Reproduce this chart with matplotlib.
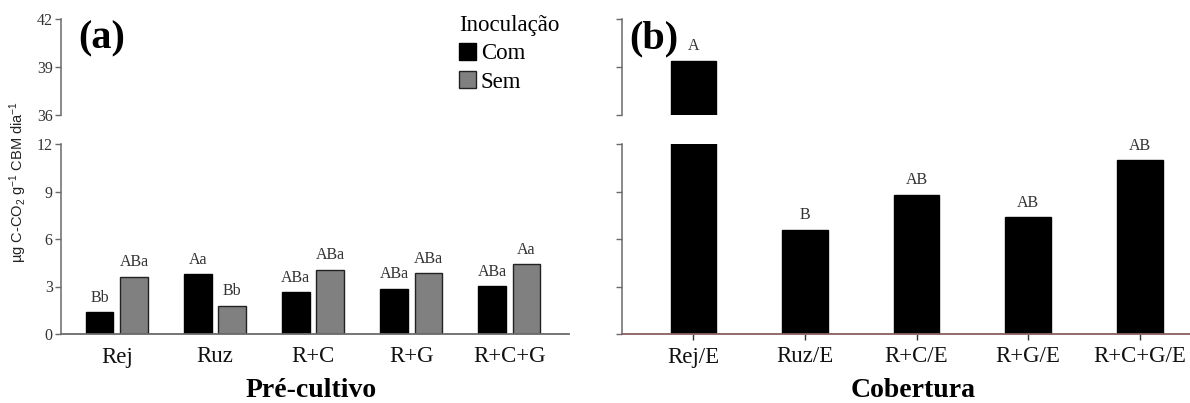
import matplotlib
matplotlib.use("Agg")
import matplotlib.pyplot as plt
from matplotlib.patches import Patch
import numpy as np

# Pré-cultivo (com / sem inoculação)
pre_cultivo = ["Rej", "Ruz", "R+C", "R+G", "R+C+G"]
com = [1.37, 3.77, 2.63, 2.87, 3.01]
sem = [3.63, 1.79, 4.07, 3.86, 4.39]
letras_com = ["Bb", "Aa", "ABa", "ABa", "ABa"]
letras_sem = ["ABa", "Bb", "ABa", "ABa", "Aa"]

# Cobertura
cobertura = ["Rej/E", "Ruz/E", "R+C/E", "R+G/E", "R+C+G/E"]
cob_vals = [39.4, 6.6, 8.8, 7.4, 11.0]
letras_cob = ["A", "B", "AB", "AB", "AB"]

serif = "Liberation Serif"
plt.rcParams["font.family"] = serif
plt.rcParams["mathtext.fontset"] = "custom"
plt.rcParams["mathtext.rm"] = "Liberation Sans"
plt.rcParams["mathtext.it"] = "Liberation Sans"
axis_col = "#6a6a6a"

W, H = 1190, 403
fig = plt.figure(figsize=(W / 100, H / 100), dpi=100)


def box(x0, x1, y_top, y_bot):
    return [x0 / W, 1 - y_bot / H, (x1 - x0) / W, (y_bot - y_top) / H]


ax_a_hi = fig.add_axes(box(61, 569, 19, 115))
ax_a_lo = fig.add_axes(box(61, 569, 144, 334))
ax_b_hi = fig.add_axes(box(622, 1190, 19, 115))
ax_b_lo = fig.add_axes(box(622, 1190, 144, 334))

for ax in (ax_a_hi, ax_a_lo, ax_b_hi, ax_b_lo):
    for s in ("top", "right"):
        ax.spines[s].set_visible(False)
    ax.spines["left"].set_color(axis_col)
    ax.spines["bottom"].set_color(axis_col)
    ax.spines["left"].set_linewidth(1.1)
    ax.spines["bottom"].set_linewidth(1.3)
    ax.tick_params(colors="#333333", labelsize=11.5, length=4, width=1, direction="out")
    ax.tick_params(axis="y", color=axis_col, pad=2)

for ax in (ax_a_hi, ax_b_hi):
    ax.spines["bottom"].set_visible(False)
    ax.set_ylim(36, 42)
    ax.set_yticks([36, 39, 42])
    ax.set_xticks([])

for ax in (ax_a_lo, ax_b_lo):
    ax.set_ylim(0, 12)
    ax.set_yticks([0, 3, 6, 9, 12])

ax_b_lo.spines["bottom"].set_color("#8a6060")

# painel (a)
x = np.arange(len(pre_cultivo))
w, off = 0.28, 0.175
for ax in (ax_a_hi, ax_a_lo):
    ax.set_xlim(-0.57, 4.61)
    ax.bar(x - off, com, w, color="black", edgecolor="black", linewidth=1)
    ax.bar(x + off, sem, w, color="#808080", edgecolor="#222222", linewidth=1)

for xi, v, t in zip(x - off, com, letras_com):
    ax_a_lo.annotate(t, (xi, v), xytext=(0, 4.5), textcoords="offset points",
                     ha="center", va="bottom", fontsize=11.5, color="#333333")
for xi, v, t in zip(x + off, sem, letras_sem):
    ax_a_lo.annotate(t, (xi, v), xytext=(0, 4.5), textcoords="offset points",
                     ha="center", va="bottom", fontsize=11.5, color="#333333")

ax_a_lo.set_xticks(x)
ax_a_lo.set_xticklabels(pre_cultivo, fontsize=16.5, color="#111111")
ax_a_lo.tick_params(axis="x", length=0, pad=9)

# painel (b)
xb = np.arange(len(cobertura))
for ax in (ax_b_hi, ax_b_lo):
    ax.set_xlim(-0.64, 4.45)
    ax.bar(xb, cob_vals, 0.41, color="black", edgecolor="black")
    ax.set_yticklabels([])

for xi, v, t in zip(xb, cob_vals, letras_cob):
    target = ax_b_hi if v > 12 else ax_b_lo
    target.annotate(t, (xi, v), xytext=(0, 4.5), textcoords="offset points",
                    ha="center", va="bottom", fontsize=11.5, color="#333333")

ax_b_lo.set_xticks(xb)
ax_b_lo.set_xticklabels(cobertura, fontsize=16.5, color="#111111")
ax_b_lo.tick_params(axis="x", length=4, pad=5)

# rótulos
fig.text(78 / W, 1 - 20 / H, "(a)", fontsize=29, fontweight="bold", va="top", ha="left")
fig.text(629 / W, 1 - 20 / H, "(b)", fontsize=29, fontweight="bold", va="top", ha="left")
fig.text(311 / W, 1 - 397 / H, "Pré-cultivo", fontsize=20, fontweight="bold",
         ha="center", va="baseline")
fig.text(913 / W, 1 - 397 / H, "Cobertura", fontsize=20, fontweight="bold",
         ha="center", va="baseline")
fig.text(18 / W, 1 - 182 / H, r"µg C-CO$_2$ g$^{-1}$ CBM dia$^{-1}$",
         rotation=90, ha="center", va="center", fontsize=10.5,
         family="Liberation Sans", color="#222222")

handles = [Patch(facecolor="black", edgecolor="black", label="Com"),
           Patch(facecolor="#808080", edgecolor="#222222", label="Sem")]
leg = fig.legend(handles=handles, title="Inoculação", loc="upper left",
                 bbox_to_anchor=(459 / W, 1 - 15 / H), frameon=False,
                 fontsize=16.5, title_fontsize=16.5, alignment="left",
                 handlelength=0.75, handleheight=0.75, handletextpad=0.2,
                 labelspacing=0.3, borderpad=0, borderaxespad=0)

fig.savefig("out.png", dpi=100)
